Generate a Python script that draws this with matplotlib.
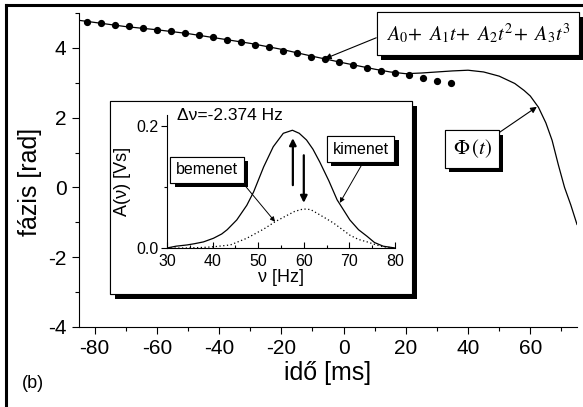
import numpy as np
import matplotlib
matplotlib.use("Agg")
from matplotlib import pyplot as plt
from matplotlib.patches import Rectangle
from matplotlib.lines import Line2D
import matplotlib.patheffects as pe

plt.rcParams['font.family'] = ['Liberation Sans', 'DejaVu Sans']
plt.rcParams['mathtext.fontset'] = 'stix'
plt.rcParams['axes.unicode_minus'] = False

# measured phase points (fit samples)
t_pts = [-82.5, -78.0, -73.5, -69.0, -64.5, -60.0, -55.5, -51.0, -46.5, -42.0,
         -37.5, -33.0, -28.5, -24.0, -19.5, -15.0, -10.5, -6.0, -1.5, 3.0,
         7.5, 12.0, 16.5, 21.0, 25.5, 30.0, 34.5]
phi_pts = [4.75, 4.70, 4.67, 4.62, 4.58, 4.52, 4.47, 4.42, 4.37, 4.31,
           4.23, 4.17, 4.09, 4.03, 3.92, 3.85, 3.75, 3.69, 3.60, 3.51,
           3.42, 3.35, 3.28, 3.22, 3.13, 3.05, 2.99]

# phase curve Phi(t)
t_line = [-85, -80, -70, -60, -50, -40, -30, -20, -10, 0, 10, 15, 20, 25, 30,
          35, 40, 45, 50, 55, 58, 60, 62.6, 65, 67, 69, 71, 73, 75]
phi_line = [4.79, 4.73, 4.61, 4.52, 4.41, 4.27, 4.13, 3.96, 3.76, 3.57, 3.39,
            3.31, 3.26, 3.28, 3.31, 3.34, 3.36, 3.31, 3.19, 2.98, 2.78, 2.62,
            2.30, 1.85, 1.35, 0.65, 0.0, -0.5, -1.06]

# inset spectra
nu_out = [30, 32, 34.4, 36, 38, 40.2, 42, 43.2, 45.3, 47.5, 49, 51.2, 53.3,
          55.5, 57.5, 59, 60.6, 62, 63.5, 65.5, 67.3, 70.1, 72, 73.9, 75.5,
          77.4, 80]
a_out = [0.0, 0.003, 0.005, 0.007, 0.010, 0.016, 0.023, 0.030, 0.046, 0.070,
         0.092, 0.133, 0.166, 0.188, 0.193, 0.188, 0.177, 0.162, 0.141, 0.110,
         0.079, 0.046, 0.030, 0.019, 0.009, 0.003, 0.0]
nu_in = [30, 34.4, 38, 40.2, 43.9, 47.5, 51.2, 53.7, 56.2, 58, 59.9, 61.5,
         62.9, 64.5, 66.5, 68.5, 70.1, 72, 73.9, 75.5, 77.4, 80]
a_in = [0.0, 0.0, 0.001, 0.002, 0.005, 0.016, 0.031, 0.043, 0.053, 0.060,
        0.064, 0.063, 0.057, 0.050, 0.041, 0.030, 0.021, 0.014, 0.010, 0.006,
        0.002, 0.0]

W, H = 583, 407
fig = plt.figure(figsize=(W / 100, H / 100), dpi=100)

def fx(px):
    return px / W

def fy(py):
    return 1 - py / H

ax = fig.add_axes([fx(79), fy(327), fx(577) - fx(79), fy(13) - fy(327)])
ax.plot(t_line, phi_line, color='black', lw=0.9, zorder=2)
ax.plot(t_pts, phi_pts, 'o', color='black', ms=4.2, zorder=3)
ax.set_xlim(-85, 75)
ax.set_ylim(-4, 5)
ax.set_xticks([-80, -60, -40, -20, 0, 20, 40, 60])
ax.set_xticks(np.arange(-80, 75, 10), minor=True)
ax.set_yticks([-4, -2, 0, 2, 4])
ax.set_yticks(np.arange(-4, 5.1, 1), minor=True)
for s in ['top', 'right']:
    ax.spines[s].set_visible(False)
for s in ['left', 'bottom']:
    ax.spines[s].set_linewidth(0.8)
ax.tick_params(which='major', direction='out', length=5, width=0.8, labelsize=15, pad=4)
ax.tick_params(which='minor', direction='out', length=3, width=0.8)
ax.set_xlabel('idő [ms]', fontsize=18, labelpad=2)
fig.text(fx(30), fy(182), 'fázis [rad]', rotation=90, fontsize=18,
         ha='center', va='center')
fig.text(fx(22), fy(383), '(b)', fontsize=13, ha='left', va='center')

shadow = [pe.withSimplePatchShadow(offset=(3, -3), shadow_rgbFace='black', alpha=1.0),
          pe.Normal()]

# formula label
f_txt = ax.annotate(r'$A_0\!+\ A_1t\!+\ A_2t^2\!+\ A_3t^3$', xy=(-6, 3.69),
                    xytext=(43.2, 4.40), ha='center', va='center', fontsize=14.5,
                    bbox=dict(boxstyle='square,pad=0.45', fc='white', ec='black', lw=0.8),
                    arrowprops=dict(arrowstyle='-|>', color='black', lw=0.8,
                                    mutation_scale=9, shrinkA=0, shrinkB=0,
                                    relpos=(0, 0.5)),
                    zorder=5, annotation_clip=False)
f_txt.get_bbox_patch().set_path_effects(shadow)

p_txt = ax.annotate(r'$\Phi\,(t)$', xy=(62.1, 2.31), xytext=(41.3, 1.10),
                    ha='center', va='center', fontsize=15,
                    bbox=dict(boxstyle='square,pad=0.35', fc='white', ec='black', lw=0.8),
                    arrowprops=dict(arrowstyle='-|>', color='black', lw=0.8,
                                    mutation_scale=9, shrinkA=0, shrinkB=0,
                                    relpos=(1, 1)),
                    zorder=5)
p_txt.get_bbox_patch().set_path_effects(shadow)

# inset frame
box = Rectangle((fx(110), fy(294)), fx(412) - fx(110), fy(101) - fy(294),
                transform=fig.transFigure, fc='white', ec='black', lw=0.8,
                zorder=10, clip_on=False)
box.set_path_effects([pe.withSimplePatchShadow(offset=(3.5, -3.5), shadow_rgbFace='black',
                                               alpha=1.0), pe.Normal()])
ax.add_patch(box)

ins = fig.add_axes([fx(167), fy(248), fx(395) - fx(167), fy(115) - fy(248)])
ins.patch.set_alpha(0)
ins.plot(nu_out, a_out, color='black', lw=0.9)
ins.plot(nu_in, a_in, color='black', lw=0.9, ls=(0, (1, 2)))
ins.set_xlim(30, 80)
ins.set_ylim(0, 0.218)
ins.set_xticks([30, 40, 50, 60, 70, 80])
ins.set_xticks(np.arange(30, 81, 5), minor=True)
ins.set_yticks([0.0, 0.2])
ins.set_yticks([0.1], minor=True)
ins.set_yticklabels(['0.0', '0.2'])
for s in ['top', 'right']:
    ins.spines[s].set_visible(False)
for s in ['left', 'bottom']:
    ins.spines[s].set_linewidth(0.8)
ins.tick_params(axis='x', which='major', direction='in', length=4, width=0.8, labelsize=11.5, pad=4)
ins.tick_params(axis='x', which='minor', direction='in', length=2.5, width=0.8)
ins.tick_params(axis='y', which='major', direction='out', length=4, width=0.8, labelsize=11.5, pad=2)
ins.tick_params(axis='y', which='minor', direction='out', length=2.5, width=0.8)
ins.set_xlabel('ν [Hz]', fontsize=13, labelpad=0)
ins.set_ylabel('A(ν) [Vs]', fontsize=13, labelpad=4)
ins.text(32.2, 0.218, 'Δν=-2.374 Hz', fontsize=12.5, ha='left', va='center', clip_on=False)

ins.annotate('', xy=(57.6, 0.180), xytext=(57.6, 0.103),
             arrowprops=dict(arrowstyle='-|>', color='black', lw=1.6, mutation_scale=10,
                             shrinkA=0, shrinkB=0))
ins.annotate('', xy=(60.0, 0.074), xytext=(60.0, 0.152),
             arrowprops=dict(arrowstyle='-|>', color='black', lw=1.6, mutation_scale=10,
                             shrinkA=0, shrinkB=0))

b_txt = ins.annotate('bemenet', xy=(53.7, 0.043), xytext=(38.8, 0.128),
                     ha='center', va='center', fontsize=11.5,
                     bbox=dict(boxstyle='square,pad=0.35', fc='white', ec='black', lw=0.8),
                     arrowprops=dict(arrowstyle='-|>', color='black', lw=0.7,
                                     mutation_scale=7, shrinkA=0, shrinkB=0,
                                     relpos=(1, 0)),
                     annotation_clip=False)
b_txt.get_bbox_patch().set_path_effects(shadow)
k_txt = ins.annotate('kimenet', xy=(67.9, 0.074), xytext=(72.5, 0.162),
                     ha='center', va='center', fontsize=11.5,
                     bbox=dict(boxstyle='square,pad=0.35', fc='white', ec='black', lw=0.8),
                     arrowprops=dict(arrowstyle='-|>', color='black', lw=0.7,
                                     mutation_scale=7, shrinkA=0, shrinkB=0,
                                     relpos=(0.6, 0)),
                     annotation_clip=False)
k_txt.get_bbox_patch().set_path_effects(shadow)

# outer frame (top and left edges)
fig.add_artist(Line2D([fx(6), 1], [fy(5), fy(5)], color='black', lw=2.2,
                      transform=fig.transFigure))
fig.add_artist(Line2D([fx(6), fx(6)], [0, fy(5)], color='black', lw=2.2,
                      transform=fig.transFigure))

plt.savefig('out.png', dpi=100)
